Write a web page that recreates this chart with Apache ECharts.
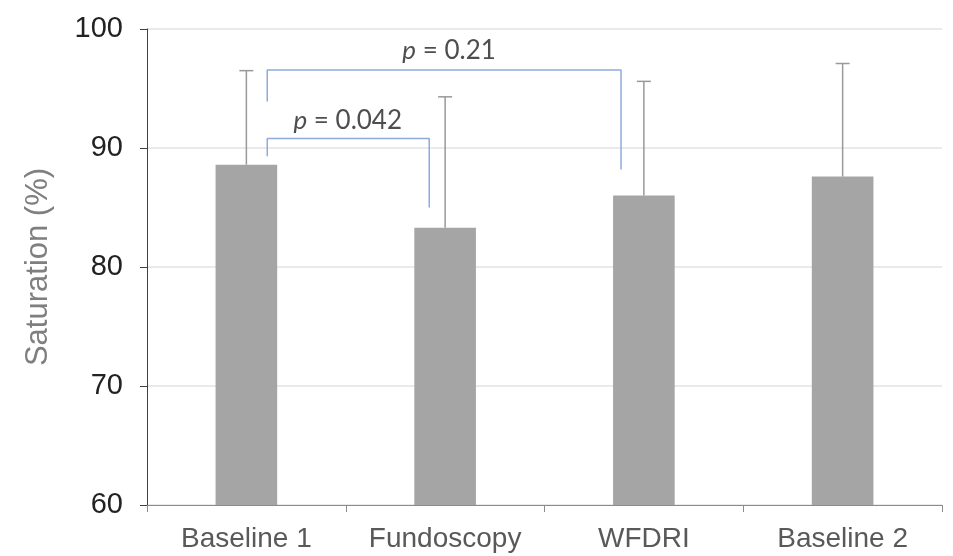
<!DOCTYPE html>
<html>
<head>
<meta charset="utf-8">
<script src="https://cdn.jsdelivr.net/npm/echarts@6/dist/echarts.min.js"></script>
<style>
  html, body { margin: 0; padding: 0; background: #fff; }
  #chart { width: 953px; height: 556px; }
</style>
</head>
<body>
<div id="chart"></div>
<script>
(function() {
    var myChart = echarts.init(document.getElementById('chart'));

    // 数据
    var categories = ['Baseline 1', 'Fundoscopy', 'WFDRI', 'Baseline 2'];
    var means = [88.6, 83.3, 86.0, 87.6];
    var upper = [96.5, 94.3, 95.6, 97.1];   // 误差线顶端
    var yTicks = [60, 70, 80, 90, 100];

    // 显著性括号 [x, y]，x 为类目位置
    var bracket1 = [[0.105, 89.3], [0.105, 90.8], [0.92, 90.8], [0.92, 85.0]];
    var bracket2 = [[0.105, 93.9], [0.105, 96.55], [1.885, 96.55], [1.885, 88.2]];
    var pLabels = [
        { pos: [0.51, 92.3], text: '0.042' },
        { pos: [1.02, 98.2], text: '0.21' }
    ];

    var option = {
        backgroundColor: '#fff',
        animation: false,
        grid: { left: 147, right: 11, top: 29, bottom: 51 },
        xAxis: [{
            type: 'category',
            data: categories,
            boundaryGap: true,
            axisLine: { lineStyle: { color: '#8c8c8c', width: 1 } },
            axisTick: { show: true, length: 7, interval: 0, alignWithLabel: false, lineStyle: { color: '#8c8c8c' } },
            axisLabel: { color: '#595959', fontSize: 28, interval: 0, fontFamily: 'Liberation Sans', margin: 20 }
        }, {
            type: 'value',
            min: -0.5,
            max: 3.5,
            show: false
        }],
        yAxis: {
            type: 'value',
            min: yTicks[0],
            max: yTicks[yTicks.length - 1],
            interval: 10,
            name: 'Saturation (%)',
            nameLocation: 'middle',
            nameGap: 93,
            nameTextStyle: { color: '#7f7f7f', fontSize: 31, fontFamily: 'Liberation Sans' },
            axisLine: { show: true, onZero: false, lineStyle: { color: '#404040', width: 1 } },
            axisTick: { show: true, length: 7, lineStyle: { color: '#404040' } },
            axisLabel: { color: '#222', fontSize: 29, fontFamily: 'Liberation Sans', margin: 24 },
            splitLine: { lineStyle: { color: '#e3e3e3', width: 1.5 } }
        },
        series: [{
            type: 'bar',
            data: means,
            barWidth: '31%',
            itemStyle: { color: '#a5a5a5' },
            z: 2
        }, {
            // 误差线（只画上半）
            type: 'custom',
            data: categories.map(function(c, i) { return [i, means[i], upper[i]]; }),
            encode: { x: 0, y: [1, 2] },
            renderItem: function(params, api) {
                var lo = api.coord([api.value(0), api.value(1)]);
                var hi = api.coord([api.value(0), api.value(2)]);
                var half = 7;
                var style = { stroke: '#999', lineWidth: 1.5 };
                return {
                    type: 'group',
                    children: [
                        { type: 'line', shape: { x1: lo[0], y1: lo[1], x2: hi[0], y2: hi[1] }, style: style },
                        { type: 'line', shape: { x1: hi[0] - half, y1: hi[1], x2: hi[0] + half, y2: hi[1] }, style: style }
                    ]
                };
            },
            z: 3
        }, {
            type: 'line',
            xAxisIndex: 1,
            data: bracket1,
            symbol: 'none',
            lineStyle: { color: '#8faadc', width: 1.5 },
            z: 4
        }, {
            type: 'line',
            xAxisIndex: 1,
            data: bracket2,
            symbol: 'none',
            lineStyle: { color: '#8faadc', width: 1.5 },
            z: 4
        }, {
            type: 'scatter',
            xAxisIndex: 1,
            symbolSize: 0,
            data: pLabels.map(function(d) { return { value: d.pos, name: d.text }; }),
            label: {
                show: true,
                position: 'inside',
                formatter: function(p) { return '{i|p} = ' + p.name; },
                color: '#222',
                fontSize: 26,
                fontFamily: 'Lato',
                rich: {
                    i: { fontStyle: 'italic', fontSize: 26, fontFamily: 'Lato', color: '#222' }
                }
            },
            z: 5
        }]
    };
    myChart.setOption(option);
    window.addEventListener('resize', function() {
        myChart.resize();
    });
})();
</script>
</body>
</html>
